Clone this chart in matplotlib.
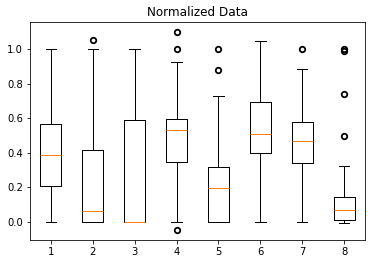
import matplotlib
matplotlib.use('agg')
import matplotlib.pyplot as plt

# box statistics
labels = ['1', '2', '3', '4', '5', '6', '7', '8']
q1 = [0.206, 0.0, 0.0, 0.347, 0.0, 0.399, 0.341, 0.012]
medians = [0.387, 0.064, 0.0, 0.532, 0.197, 0.509, 0.468, 0.069]
q3 = [0.566, 0.414, 0.590, 0.595, 0.318, 0.694, 0.576, 0.145]
whislo = [0.0, 0.0, 0.0, 0.0, 0.0, 0.0, 0.0, -0.005]
whishi = [1.0, 1.0, 1.0, 0.925, 0.726, 1.044, 0.882, 0.324]
fliers = [[], [1.052], [], [1.098, 1.0, -0.046], [1.0, 0.879],
          [], [1.0], [0.985, 1.0, 0.74, 0.495]]

stats = []
for i in range(len(labels)):
    stats.append({'label': labels[i], 'q1': q1[i], 'med': medians[i],
                  'q3': q3[i], 'whislo': whislo[i], 'whishi': whishi[i],
                  'fliers': fliers[i]})

fig = plt.figure(figsize=(372 / 72, 264 / 72), dpi=72)
ax = fig.add_axes([30 / 372, 24 / 264, 335 / 372, 218 / 264])
# outliers in the reference look heavy (overlapping points)
ax.bxp(stats, flierprops={'markeredgewidth': 1.8, 'markersize': 5.5})
ax.set_title('Normalized Data')

fig.savefig('out.png', dpi=72)
